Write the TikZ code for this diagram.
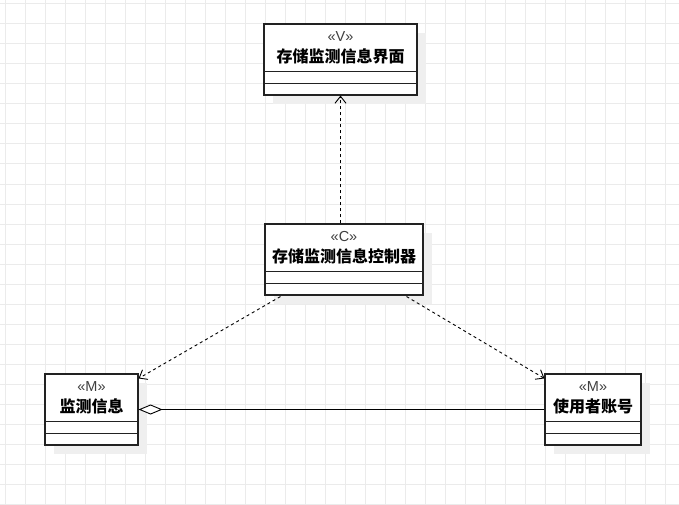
\documentclass[tikz,border=0pt]{standalone}
\usepackage{fontspec}
\setmainfont{Liberation Sans}
\newfontfamily\cjk{Noto Sans CJK SC}
\usetikzlibrary{arrows.meta,calc,shadows}
\definecolor{gridc}{HTML}{EBEBEB}
\definecolor{shadowc}{HTML}{EFEFEF}
\definecolor{linec}{HTML}{222222}
\tikzset{
  classbox/.style={draw=linec, line width=1.1pt, fill=white, inner sep=0pt,
    general shadow={fill=shadowc, shadow xshift=9pt, shadow yshift=-9pt}},
  stereo/.style={font=\fontsize{14.5}{15}\selectfont, text=black!75, inner sep=0pt},
  cname/.style={font=\cjk\bfseries\fontsize{16}{16}\selectfont, inner sep=0pt},
  compline/.style={draw=linec, line width=1pt},
  dep/.style={draw=black, line width=0.9pt, dash pattern=on 3pt off 3pt,
    -{Straight Barb[length=7pt,width=11pt,line width=0.9pt]}},
  agg/.style={draw=black, line width=0.9pt,
    -{Diamond[open,length=24pt,width=10pt,line width=0.9pt,fill=white]}}
}
\begin{document}
\begin{tikzpicture}[x=1pt,y=-1pt]
\useasboundingbox (0,0) rectangle (679,505);
\fill[white] (0,0) rectangle (679,505);
\foreach \gx in {5,25,...,679} \draw[gridc, line width=1pt] (\gx,0) -- (\gx,505);
\foreach \gy in {4,24,...,505} \draw[gridc, line width=1pt] (0,\gy) -- (679,\gy);

% classes
\node[classbox, minimum width=153pt, minimum height=71pt] (V) at (340.5,59.5) {};
\node[classbox, minimum width=158pt, minimum height=71pt] (C) at (344,259.5) {};
\node[classbox, minimum width=93pt, minimum height=71pt] (M1) at (91.5,409.5) {};
\node[classbox, minimum width=96pt, minimum height=71pt] (M2) at (593,409.5) {};

\foreach \b in {V,C,M1,M2} {
  \draw[compline] ($(\b.north west)+(0,48)$) -- ($(\b.north east)+(0,48)$);
  \draw[compline] ($(\b.north west)+(0,60)$) -- ($(\b.north east)+(0,60)$);
}

% texts
\node[stereo] (Vs) at ($(V.north)+(0,13)$) {«V»};
\node[cname] (Vn) at ($(V.north)+(0,33)$) {存储监测信息界面};
\node[stereo] (Cs) at ($(C.north)+(0,13)$) {«C»};
\node[cname] (Cn) at ($(C.north)+(0,33)$) {存储监测信息控制器};
\node[stereo] (M1s) at ($(M1.north)+(0,13)$) {«M»};
\node[cname] (M1n) at ($(M1.north)+(0,33)$) {监测信息};
\node[stereo] (M2s) at ($(M2.north)+(0,13)$) {«M»};
\node[cname] (M2n) at ($(M2.north)+(0,33)$) {使用者账号};

% connectors
\draw[dep] (C.north -| V.south) -- (V.south);
\draw[dep] ($(C.south west)+(16,1)$) -- ($(M1.north east)+(0,5)$);
\draw[dep] ($(C.south east)+(-17,1)$) -- ($(M2.north west)+(0,5)$);
\draw[agg] (M2.west) -- (M1.east);
\end{tikzpicture}
\end{document}
